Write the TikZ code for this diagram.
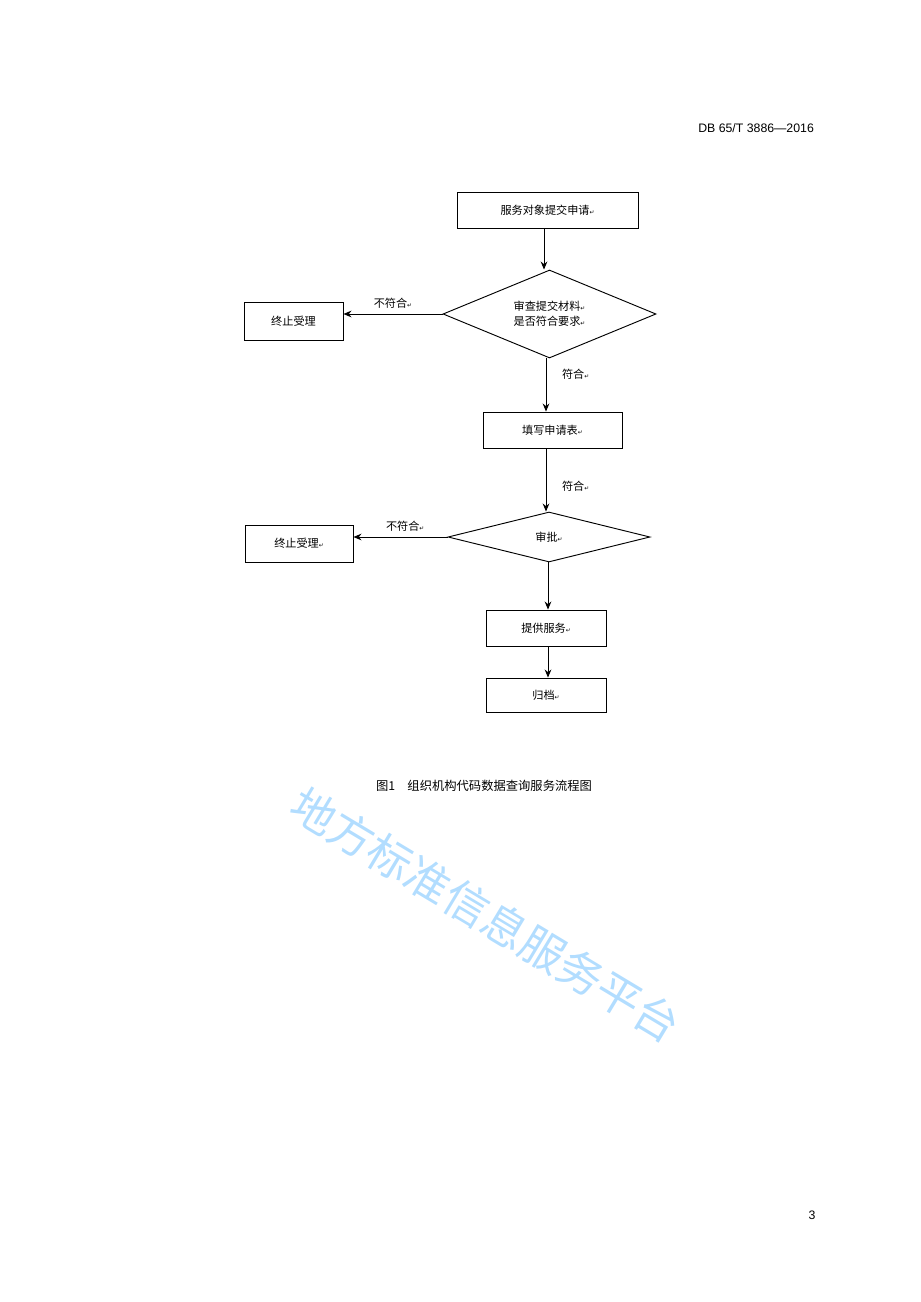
\documentclass[tikz,border=0pt]{standalone}
\usepackage{fontspec}
\setmainfont{Liberation Sans}
\newfontfamily\cjk{Noto Sans CJK SC}
\newfontfamily\sym{DejaVu Sans}
\usetikzlibrary{shapes.geometric,arrows.meta}
\newcommand{\pmk}{{\sym\tiny ↵}}
\begin{document}
\begin{tikzpicture}[x=0.3mm,y=-0.3mm,
  box/.style={draw,thick,minimum height=10.8mm,font=\cjk\fontsize{9.5}{11}\selectfont},
  dia/.style={draw,thick,diamond,aspect=2.4,inner sep=0pt,font=\cjk\fontsize{9.5}{13}\selectfont,align=center},
  arr/.style={thick,-{Stealth[length=2.4mm,width=2mm]}},
  lab/.style={font=\cjk\fontsize{9.5}{11}\selectfont}]
\useasboundingbox (0,0) rectangle (920,1302);
\node[anchor=east,font=\fontsize{10.5}{12}\selectfont] (hdr) at (818,128) {DB 65/T 3886—2016};
\node[box,minimum width=54.3mm] (b1) at (547.5,210) {服务对象提交申请\pmk};
\node[dia,minimum width=63.9mm,minimum height=26.4mm] (d1) at (549.5,314) {审查提交材料\pmk\\是否符合要求\pmk};
\node[box,minimum width=29.7mm,minimum height=11.4mm] (s1) at (293.5,321) {终止受理};
\node[box,minimum width=41.7mm] (b2) at (552.5,430) {填写申请表\pmk};
\node[dia,minimum width=60.6mm,minimum height=15mm] (d2) at (549,537) {审批\pmk};
\node[box,minimum width=32.4mm,minimum height=11.1mm] (s2) at (299,543.5) {终止受理\pmk};
\node[box,minimum width=36mm] (b3) at (546,628) {提供服务\pmk};
\node[box,minimum width=36mm,minimum height=10.2mm] (b4) at (546,695) {归档\pmk};
\draw[arr] (b1.south -| 544,0) -- (d1.north -| 544,0);
\draw[arr] (d1.west) -- (s1.east |- d1.west) node[lab,midway,above=1pt] {不符合\pmk};
\draw[arr] (d1.south -| 546,0) -- (b2.north -| 546,0) node[lab,pos=0.3,right=10pt] {符合\pmk};
\draw[arr] (b2.south -| 546,0) -- (d2.north -| 546,0) node[lab,pos=0.6,right=10pt] {符合\pmk};
\draw[arr] (d2.west) -- (s2.east |- d2.west) node[lab,pos=0.45,above=1pt] {不符合\pmk};
\draw[arr] (d2.south -| 548,0) -- (b3.north -| 548,0);
\draw[arr] (b3.south -| 548,0) -- (b4.north -| 548,0);
\node[font=\cjk\fontsize{10.5}{12}\selectfont] (cap) at (484,786) {图1\quad 组织机构代码数据查询服务流程图};
\node[font=\fontsize{10.5}{12}\selectfont] (pg) at (812,1215) {3};
\node[rotate=-31,text=blue!45!cyan!30,font=\cjk\fontsize{38}{40}\selectfont] (wm) at (486,915) {地方标准信息服务平台};
\end{tikzpicture}
\end{document}
